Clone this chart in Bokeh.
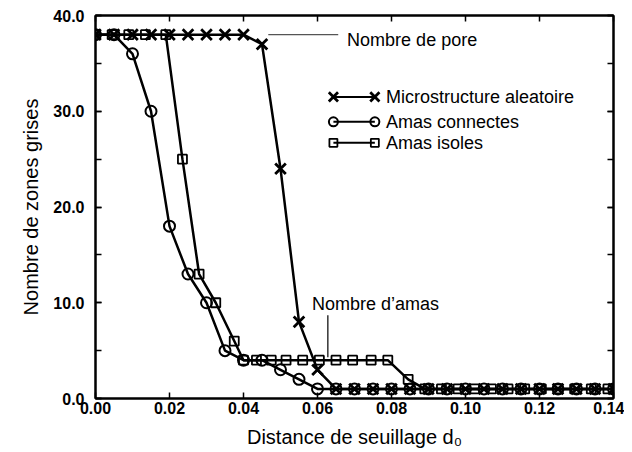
from bokeh.plotting import figure
from bokeh.models import (Range1d, LinearAxis, SingleIntervalTicker, PrintfTickFormatter,
                          CustomJSTickFormatter, Label)
from bokeh.embed import file_html
from bokeh.resources import INLINE

# ---------------- data ----------------
d0_alea = [0.000, 0.005, 0.010, 0.015, 0.020, 0.025, 0.030, 0.035, 0.040, 0.045,
           0.050, 0.055, 0.060, 0.065, 0.070, 0.075, 0.080, 0.085, 0.090, 0.095,
           0.100, 0.105, 0.110, 0.115, 0.120, 0.125, 0.130, 0.135, 0.140]
n_alea = [38, 38, 38, 38, 38, 38, 38, 38, 38, 37,
          24, 8, 3, 1, 1, 1, 1, 1, 1, 1,
          1, 1, 1, 1, 1, 1, 1, 1, 1]

d0_conn = [0.000, 0.005, 0.010, 0.015, 0.020, 0.025, 0.030, 0.035, 0.040, 0.045,
           0.050, 0.055, 0.060, 0.065, 0.070, 0.075, 0.080, 0.085, 0.090, 0.095,
           0.100, 0.105, 0.110, 0.115, 0.120, 0.125, 0.130, 0.135, 0.140]
n_conn = [38, 38, 36, 30, 18, 13, 10, 5, 4, 4,
          3, 2, 1, 1, 1, 1, 1, 1, 1, 1,
          1, 1, 1, 1, 1, 1, 1, 1, 1]

d0_isol = [0.000, 0.0045, 0.009, 0.0135, 0.019, 0.0235, 0.028, 0.0325, 0.0375, 0.040,
           0.0435, 0.0475, 0.0515, 0.056, 0.0605, 0.065, 0.0695, 0.0745, 0.079, 0.0845,
           0.089, 0.0935, 0.098, 0.1025, 0.107, 0.1115, 0.116, 0.1205, 0.125, 0.1295,
           0.134, 0.1385]
n_isol = [38, 38, 38, 38, 38, 25, 13, 10, 6, 4,
          4, 4, 4, 4, 4, 4, 4, 4, 4, 2,
          1, 1, 1, 1, 1, 1, 1, 1, 1, 1,
          1, 1]

series_labels = ["Microstructure aleatoire", "Amas connectes", "Amas isoles"]
x_label = "Distance de seuillage d\u2080"
y_label = "Nombre de zones grises"

FONT = "Liberation Sans"

p = figure(width=624, height=452, x_range=Range1d(0, 0.14), y_range=Range1d(0, 40),
           output_backend="svg", toolbar_location=None,
           min_border_left=95, min_border_right=11, min_border_top=15, min_border_bottom=54)
p.xgrid.visible = False
p.ygrid.visible = False
p.outline_line_color = "black"
p.outline_line_width = 2
p.background_fill_color = "white"
p.border_fill_color = "white"

def style_axis(ax, labels=True):
    ax.axis_line_color = "black"
    ax.axis_line_width = 2
    ax.major_tick_in = 6
    ax.major_tick_out = 0
    ax.minor_tick_in = 6
    ax.minor_tick_out = 0
    ax.major_tick_line_width = 1.5
    ax.minor_tick_line_width = 1.5
    ax.major_label_text_font = FONT
    ax.major_label_text_font_style = "bold"
    ax.major_label_text_color = "black"
    ax.major_label_text_font_size = "16px"
    ax.axis_label_text_font = FONT
    ax.axis_label_text_font_style = "normal"
    ax.axis_label_text_font_size = "20px"
    ax.axis_label_text_color = "black"

p.xaxis.ticker = SingleIntervalTicker(interval=0.02, num_minor_ticks=0)
p.yaxis.ticker = SingleIntervalTicker(interval=10, num_minor_ticks=2)
p.xaxis.formatter = PrintfTickFormatter(format="%.2f")
p.yaxis.formatter = PrintfTickFormatter(format="%.1f")
p.xaxis.axis_label = x_label
p.yaxis.axis_label = y_label
for ax in p.xaxis + p.yaxis:
    style_axis(ax)
p.xaxis.major_label_standoff = 3
p.xaxis.axis_label_standoff = 9
p.yaxis.major_label_standoff = 11
p.yaxis.axis_label_standoff = 8

blank = CustomJSTickFormatter(code="return '';")
top = LinearAxis(ticker=SingleIntervalTicker(interval=0.02, num_minor_ticks=0), formatter=blank)
right = LinearAxis(ticker=SingleIntervalTicker(interval=10, num_minor_ticks=2), formatter=blank)
for ax in (top, right):
    style_axis(ax)
    ax.major_label_standoff = 0
p.add_layout(top, "above")
p.add_layout(right, "right")

LW = 2.5
# series lines
p.line(d0_alea, n_alea, line_color="black", line_width=LW)
p.line(d0_conn, n_conn, line_color="black", line_width=LW)
p.line(d0_isol, n_isol, line_color="black", line_width=LW)
# markers
p.scatter(d0_isol, n_isol, marker="square", size=9, fill_color=None,
          line_color="black", line_width=1.8)
p.scatter(d0_conn, n_conn, marker="circle", size=11, fill_color=None,
          line_color="black", line_width=2)
p.scatter(d0_alea, n_alea, marker="x", size=15, line_color="black", line_width=2.8)

# ---------------- manual legend ----------------
leg_y = [31.5, 28.9, 26.7]
leg_x0, leg_x1, leg_tx = 0.0643, 0.0755, 0.0785
leg_markers = [("x", 13, 2.8), ("circle", 9, 2), ("square", 8, 1.8)]
for yy, lab, (mk, sz, lw) in zip(leg_y, series_labels, leg_markers):
    p.line([leg_x0, leg_x1], [yy, yy], line_color="black", line_width=2)
    p.scatter([leg_x0, leg_x1], [yy, yy], marker=mk, size=sz, fill_color=None,
              line_color="black", line_width=lw)
    p.add_layout(Label(x=leg_tx, y=yy, text=lab, text_font=FONT, text_font_size="18px",
                       text_baseline="middle", text_color="black"))

# ---------------- annotations ----------------
p.segment(x0=[0.0467], y0=[38.0], x1=[0.0656], y1=[38.0], line_color="#555555", line_width=1.2)
p.add_layout(Label(x=0.068, y=37.4, text="Nombre de pore", text_font=FONT,
                   text_font_size="18px", text_baseline="middle", text_color="black"))
p.segment(x0=[0.0628], y0=[8.7], x1=[0.0628], y1=[4.3], line_color="black", line_width=1.2)
p.add_layout(Label(x=0.0585, y=9.9, text="Nombre d\u2019amas", text_font=FONT,
                   text_font_size="18px", text_baseline="middle", text_color="black"))

open("out.html", "w").write(file_html(p, INLINE))
